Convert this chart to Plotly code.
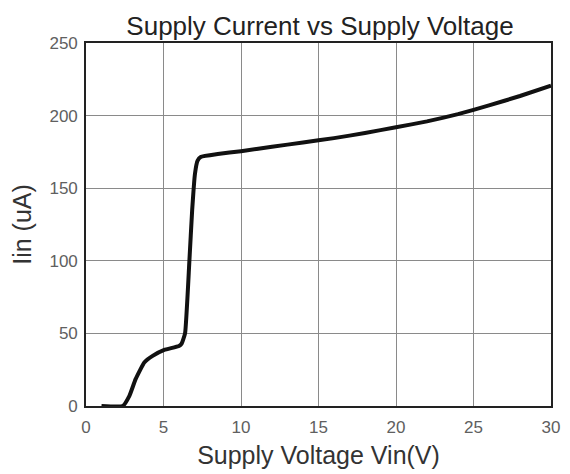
import plotly.graph_objects as go

vin = [1.0, 2.37, 2.8, 3.2, 3.76, 4.3, 5.05, 6.0, 6.17, 6.39, 6.67, 6.85, 7.03, 7.2, 7.4,
       8.5, 10, 12, 14, 16, 18, 20, 22, 24, 26, 28, 30]
iin = [0, 0, 7, 18.5, 30, 34.5, 38.6, 41.3, 43, 50, 100, 135, 160, 169, 171.5,
       173.5, 175.5, 178.5, 181.5, 184.5, 188, 192, 196, 201, 207, 213.5, 220.6]

x_ticks = [0, 5, 10, 15, 20, 25, 30]
y_ticks = [0, 50, 100, 150, 200, 250]

W, H = 562, 466

fig = go.Figure()
fig.add_trace(go.Scatter(x=vin, y=iin, mode="lines",
                         line=dict(color="#111111", width=4, shape="spline", smoothing=0.4),
                         showlegend=False, hoverinfo="skip"))

fig.update_layout(
    width=W, height=H,
    margin=dict(l=77.5, r=19, t=35, b=67.5),
    paper_bgcolor="white", plot_bgcolor="white",
    font=dict(family="Liberation Sans, Arial, sans-serif", color="#333333"),
    title=dict(text="Supply Current vs Supply Voltage", xref="container", x=312 / W, xanchor="center",
               yref="container", y=1 - 18 / H, yanchor="middle", font=dict(size=26, color="#222222")),
)
fig.update_xaxes(range=[0, 30], tickvals=x_ticks, showgrid=True, gridcolor="#8a8a8a", gridwidth=1.2,
                 showline=True, linecolor="#222222", linewidth=1.6, mirror=True, zeroline=False,
                 ticks="", tickfont=dict(size=17, color="#606060"), ticklabelstandoff=5,
                 automargin=False,
                 title=dict(text="Supply Voltage Vin(V)", font=dict(size=25, color="#333333"), standoff=10))
fig.update_yaxes(range=[0, 250], tickvals=y_ticks, showgrid=True, gridcolor="#8a8a8a", gridwidth=1.2,
                 showline=True, linecolor="#222222", linewidth=1.6, mirror=True, zeroline=False,
                 ticks="", tickfont=dict(size=17, color="#606060"), ticklabelstandoff=3,
                 automargin=False,
                 title=dict(text="Iin (uA)", font=dict(size=25, color="#333333"), standoff=12))

fig.write_html("out.html")
